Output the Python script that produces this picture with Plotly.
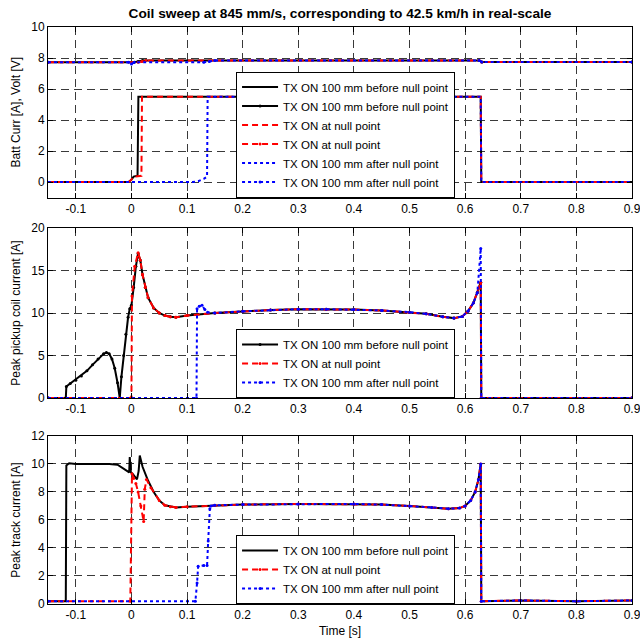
import plotly.graph_objects as go

# ---------------- data ----------------
x_ticks = [-0.1, 0, 0.1, 0.2, 0.3, 0.4, 0.5, 0.6, 0.7, 0.8, 0.9]
x_ticklabels = ["-0.1", "0", "0.1", "0.2", "0.3", "0.4", "0.5", "0.6", "0.7", "0.8", "0.9"]

names = ["TX ON 100 mm before null point", "TX ON at null point", "TX ON 100 mm after null point"]

# Panel 1: battery current and voltage
t_cur_before = [-0.15, -0.005, 0.0, 0.004, 0.011, 0.0125, 0.628, 0.629, 0.9]
i_cur_before = [0.0, 0.0, 0.15, 0.35, 0.4, 5.5, 5.5, 0.0, 0.0]
t_cur_null = [-0.15, -0.005, 0.0, 0.004, 0.018, 0.019, 0.628, 0.629, 0.9]
i_cur_null = [0.0, 0.0, 0.15, 0.35, 0.4, 5.5, 5.5, 0.0, 0.0]
t_cur_after = [-0.15, 0.11, 0.12, 0.13, 0.136, 0.137, 0.628, 0.629, 0.9]
i_cur_after = [0.0, 0.0, 0.05, 0.2, 0.35, 5.5, 5.5, 0.0, 0.0]

t_volt_before = [-0.15, 0.005, 0.012, 0.02, 0.625, 0.63, 0.9]
v_volt_before = [7.72, 7.72, 7.78, 7.84, 7.84, 7.74, 7.74]
t_volt_null = [-0.15, 0.012, 0.019, 0.026, 0.625, 0.63, 0.9]
v_volt_null = [7.72, 7.72, 7.78, 7.84, 7.84, 7.74, 7.74]
t_volt_after = [-0.15, -0.005, 0.0, 0.005, 0.13, 0.14, 0.15, 0.625, 0.63, 0.9]
v_volt_after = [7.72, 7.72, 7.62, 7.72, 7.72, 7.78, 7.84, 7.84, 7.74, 7.74]

# Panel 2: peak pickup coil current
t_pick_common = [0.02, 0.025, 0.03, 0.04, 0.05, 0.06, 0.07, 0.08, 0.1, 0.15, 0.2, 0.25,
                 0.3, 0.35, 0.4, 0.45, 0.5, 0.53, 0.56, 0.58, 0.595, 0.605, 0.615, 0.622]
p_pick_common = [14.5, 13.0, 11.8, 10.6, 10.0, 9.7, 9.55, 9.5, 9.7, 10.0, 10.2, 10.35,
                 10.45, 10.45, 10.4, 10.3, 10.1, 9.9, 9.55, 9.4, 9.6, 10.2, 11.2, 12.4]

t_pick_before = [-0.15, -0.118, -0.117, -0.11, -0.1, -0.09, -0.08, -0.07, -0.06, -0.05,
                 -0.045, -0.04, -0.035, -0.03, -0.025, -0.021, -0.018, -0.014, -0.01,
                 -0.006, -0.003, 0.0, 0.004, 0.008, 0.012, 0.016]
p_pick_before = [0.0, 0.0, 1.35, 1.7, 2.1, 2.6, 3.2, 3.9, 4.6, 5.2,
                 5.35, 5.2, 4.6, 3.5, 1.8, 0.0, 2.5, 5.0, 7.5,
                 9.5, 10.5, 10.9, 13.0, 15.5, 17.0, 16.2]
t_pick_null = [-0.15, -0.001, 0.0, 0.001, 0.006, 0.012, 0.016]
p_pick_null = [0.0, 0.0, 0.0, 12.0, 15.5, 17.1, 16.2]
t_pick_after = [-0.15, 0.117, 0.118, 0.122, 0.127, 0.132, 0.137, 0.15, 0.2, 0.25, 0.3,
                0.35, 0.4, 0.45, 0.5, 0.53, 0.56, 0.58, 0.595, 0.605, 0.615, 0.622]
p_pick_after = [0.0, 0.0, 10.5, 10.8, 10.9, 10.4, 10.1, 10.0, 10.2, 10.35, 10.45,
                10.45, 10.4, 10.3, 10.1, 9.9, 9.55, 9.4, 9.6, 10.2, 11.2, 12.4]
t_pick_end = [0.628, 0.629, 0.9]
p_pick_end_before = [13.6, 0.0, 0.0]
p_pick_end_after = [17.6, 0.0, 0.0]

# Panel 3: peak track current
t_track_common = [0.06, 0.07, 0.08, 0.1, 0.15, 0.2, 0.3, 0.4, 0.45, 0.5, 0.54, 0.57,
                  0.59, 0.6, 0.61, 0.618, 0.624, 0.628, 0.629, 0.7, 0.8, 0.9]
k_track_common = [7.05, 6.95, 6.9, 6.95, 7.05, 7.1, 7.15, 7.15, 7.1, 7.0, 6.9, 6.8,
                  6.85, 7.0, 7.4, 8.0, 8.9, 10.0, 0.2, 0.25, 0.2, 0.25]

t_track_before = [-0.15, -0.118, -0.117, -0.112, -0.1, -0.08, -0.06, -0.04, -0.025,
                  -0.015, -0.006, -0.004, -0.003, -0.001, 0.002, 0.006, 0.01, 0.013,
                  0.015, 0.02, 0.03, 0.04, 0.05]
k_track_before = [0.2, 0.2, 9.9, 10.05, 10.0, 10.0, 10.05, 10.0, 9.95,
                  9.7, 9.5, 9.4, 10.5, 9.4, 9.3, 9.1, 8.9, 9.5,
                  10.6, 9.8, 8.8, 8.0, 7.4]
t_track_null = [-0.15, -0.002, 0.001, 0.004, 0.008, 0.012, 0.017, 0.022, 0.024, 0.027,
                0.035, 0.05]
k_track_null = [0.2, 0.2, 9.3, 9.0, 8.6, 8.0, 7.0, 5.9, 8.2, 8.9, 8.3, 7.4]
t_track_after = [-0.15, 0.115, 0.118, 0.12, 0.13, 0.136, 0.138, 0.141, 0.143, 0.15, 0.2,
                 0.3, 0.4, 0.45, 0.5, 0.54, 0.57, 0.59, 0.6, 0.61, 0.618, 0.624, 0.628,
                 0.629, 0.7, 0.8, 0.9]
k_track_after = [0.2, 0.2, 1.5, 2.7, 2.75, 2.75, 4.5, 6.8, 7.0, 7.05, 7.1,
                 7.15, 7.15, 7.1, 7.0, 6.9, 6.8, 6.85, 7.0, 7.4, 8.0, 8.9, 10.0,
                 0.2, 0.25, 0.2, 0.25]

# ---------------- styles ----------------
BLACK = dict(color="black", width=2, dash="solid")
RED = dict(color="#ff0000", width=2, dash="6px,4px")
BLUE = dict(color="#0000ff", width=2, dash="dot")

fig = go.Figure()

def add(x, y, line, name, xa, ya, leg, markers):
    fig.add_trace(go.Scatter(
        x=x, y=y, name=name, line=line,
        mode="lines+markers" if markers else "lines",
        marker=dict(size=3, color=line["color"]),
        xaxis=xa, yaxis=ya, legend=leg))

# panel 1
add(t_cur_before, i_cur_before, BLACK, names[0], "x", "y", "legend", False)
add(t_volt_before, v_volt_before, BLACK, names[0], "x", "y", "legend", True)
add(t_cur_null, i_cur_null, RED, names[1], "x", "y", "legend", False)
add(t_volt_null, v_volt_null, RED, names[1], "x", "y", "legend", True)
add(t_cur_after, i_cur_after, BLUE, names[2], "x", "y", "legend", False)
add(t_volt_after, v_volt_after, BLUE, names[2], "x", "y", "legend", True)

# panel 2
add(t_pick_before + t_pick_common + t_pick_end, p_pick_before + p_pick_common + p_pick_end_before,
    BLACK, names[0], "x2", "y2", "legend2", True)
add(t_pick_null + t_pick_common + t_pick_end, p_pick_null + p_pick_common + p_pick_end_before,
    RED, names[1], "x2", "y2", "legend2", True)
add(t_pick_after + t_pick_end, p_pick_after + p_pick_end_after,
    BLUE, names[2], "x2", "y2", "legend2", True)

# panel 3
add(t_track_before + t_track_common, k_track_before + k_track_common,
    BLACK, names[0], "x3", "y3", "legend3", False)
add(t_track_null + t_track_common, k_track_null + k_track_common,
    RED, names[1], "x3", "y3", "legend3", True)
add(t_track_after, k_track_after, BLUE, names[2], "x3", "y3", "legend3", True)

FONT = "Liberation Sans, Arial, sans-serif"
GRID = "#3a3a3a"

def xaxis(anchor, title=None):
    d = dict(range=[-0.15, 0.9], tickvals=x_ticks, ticktext=x_ticklabels,
             showgrid=True, gridcolor=GRID, griddash="8px,5px", gridwidth=1,
             showline=True, linecolor="black", linewidth=1, mirror="ticks",
             ticks="inside", ticklen=5, tickcolor="black", zeroline=False,
             tickfont=dict(size=12, color="black"), anchor=anchor, automargin=False,
             ticklabeloverflow="allow")
    if title:
        d["title"] = dict(text=title, font=dict(size=12, color="black"), standoff=5)
    return d

def yaxis(rng, vals, domain, title, anchor):
    return dict(range=rng, tickvals=vals, domain=domain,
                showgrid=True, gridcolor=GRID, griddash="8px,5px", gridwidth=1,
                showline=True, linecolor="black", linewidth=1, mirror="ticks",
                ticks="inside", ticklen=5, tickcolor="black", zeroline=False,
                tickfont=dict(size=12, color="black"), anchor=anchor, automargin=False,
                ticklabeloverflow="allow",
                title=dict(text=title, font=dict(size=12, color="black"), standoff=8))

def legend(ybottom):
    return dict(x=0.697, y=ybottom, xanchor="right", yanchor="bottom",
                bgcolor="white", bordercolor="black", borderwidth=1,
                font=dict(size=11.5, color="black", family=FONT),
                tracegroupgap=0, itemwidth=36)

D1 = [0.7045, 1.0]
D2 = [0.357, 0.6516]
D3 = [0.0, 0.2912]

W, H = 640, 642
fig.update_layout(
    width=W, height=H,
    margin=dict(l=48, r=8, t=27, b=38, autoexpand=False),
    paper_bgcolor="white", plot_bgcolor="white",
    font=dict(family=FONT, color="black", size=12),
    title=dict(text="<b>Coil sweep at 845 mm/s, corresponding to 42.5 km/h in real-scale</b>",
               x=340 / W, xanchor="center", y=1 - 13 / H, yanchor="middle",
               font=dict(size=13.7, color="black"), automargin=False),
    xaxis=xaxis("y"),
    xaxis2=xaxis("y2"),
    xaxis3=xaxis("y3", "Time [s]"),
    yaxis=yaxis([-1, 10], [0, 2, 4, 6, 8, 10], D1, "Batt Curr [A], Volt [V]", "x"),
    yaxis2=yaxis([0, 20], [0, 5, 10, 15, 20], D2, "Peak pickup coil current [A]", "x2"),
    yaxis3=yaxis([0, 12], [0, 2, 4, 6, 8, 10, 12], D3, "Peak track current [A]", "x3"),
    legend=legend(D1[0]),
    legend2=legend(D2[0]),
    legend3=legend(D3[0]),
    showlegend=True,
)

# remove the default page margin so the 640x642 figure fills the window exactly
fig.write_html("out.html", config={"displayModeBar": False},
               post_script="document.body.style.margin='0';document.body.style.overflow='hidden';")
